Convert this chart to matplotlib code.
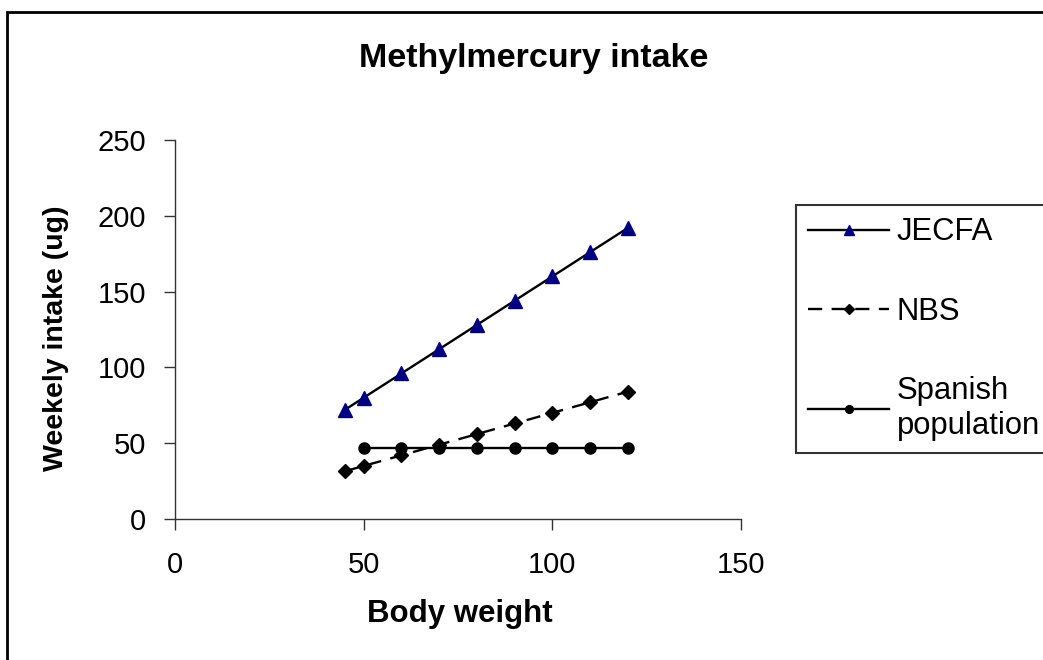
import matplotlib
matplotlib.use("Agg")
import matplotlib.pyplot as plt
from matplotlib.patches import Rectangle

plt.rcParams['font.family'] = ['Liberation Sans', 'DejaVu Sans']

# Data
jecfa_x = [45, 50, 60, 70, 80, 90, 100, 110, 120]
jecfa_y = [72, 80, 96, 112, 128, 144, 160, 176, 192]
nbs_x = [45, 50, 60, 70, 80, 90, 100, 110, 120]
nbs_y = [31.5, 35, 42, 49, 56, 63, 70, 77, 84]
spanish_x = [50, 60, 70, 80, 90, 100, 110, 120]
spanish_y = [47, 47, 47, 47, 47, 47, 47, 47]
x_ticks = [0, 50, 100, 150]
y_ticks = [0, 50, 100, 150, 200, 250]

W, H = 1043, 660
fig = plt.figure(figsize=(W / 100, H / 100), dpi=100)
fig.patch.set_facecolor('white')

ax = fig.add_axes([175 / W, 1 - 519 / H, (741 - 175) / W, (519 - 140) / H])

ax.plot(jecfa_x, jecfa_y, color='black', lw=1.7, marker='^', markersize=10.5,
        markerfacecolor='#000080', markeredgecolor='#000080', label='JECFA')
ax.plot(nbs_x, nbs_y, color='black', lw=1.7, dashes=(6, 4), marker='D', markersize=7,
        markerfacecolor='black', markeredgecolor='black', label='NBS')
ax.plot(spanish_x, spanish_y, color='black', lw=1.7, marker='o', markersize=8,
        markerfacecolor='black', markeredgecolor='black', label='Spanish\npopulation')

ax.set_xlim(0, 150)
ax.set_ylim(0, 250)
ax.set_xticks(x_ticks)
ax.set_yticks(y_ticks)
ax.tick_params(axis='both', labelsize=21, length=8, width=1, color='#333333')
ax.tick_params(axis='y', pad=13)
ax.tick_params(axis='x', pad=15)
for s in ['top', 'right']:
    ax.spines[s].set_visible(False)
for s in ['left', 'bottom']:
    ax.spines[s].set_color('#333333')
    ax.spines[s].set_linewidth(1)

fig.text(534 / W, 1 - 58 / H, 'Methylmercury intake', ha='center', va='center',
         fontsize=24.5, fontweight='bold')
fig.text(460 / W, 1 - 614 / H, 'Body weight', ha='center', va='center',
         fontsize=22.5, fontweight='bold')
fig.text(56 / W, 1 - 338 / H, 'Weekely intake (ug)', ha='center', va='center',
         rotation=90, fontsize=20.5, fontweight='bold')

leg = ax.legend(loc='upper left', bbox_to_anchor=(796 / W, 1 - 205 / H),
                bbox_transform=fig.transFigure, borderaxespad=0, fontsize=22.3,
                frameon=True, fancybox=False, shadow=False, handlelength=2.6,
                handletextpad=0.25, borderpad=0.4, labelspacing=1.6,
                markerscale=0.7)
leg.get_frame().set_edgecolor('black')
leg.get_frame().set_linewidth(1.5)

fig.patches.append(Rectangle((7 / W, -0.5), 2.0, 1.5 - 12 / H,
                             transform=fig.transFigure, fill=False,
                             edgecolor='black', linewidth=2, clip_on=False))

fig.savefig('out.png', dpi=100)
